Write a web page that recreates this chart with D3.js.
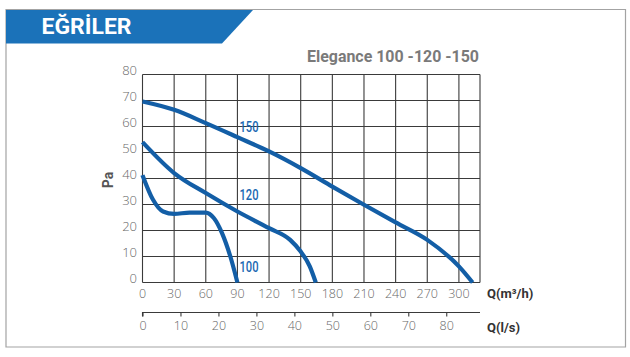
<!DOCTYPE html>
<html><head><meta charset="utf-8">
<script src="https://cdn.jsdelivr.net/npm/d3@7"></script>
<style>body{margin:0;background:#fff}svg{display:block}</style>
</head><body>
<script>
const title = "EĞRİLER";
const chartTitle = "Elegance 100 -120 -150";
const xTicks = [0,30,60,90,120,150,180,210,240,270,300];
const yTicks = [0,10,20,30,40,50,60,70,80];
const lsTicks = [0,10,20,30,40,50,60,70,80];
const curve150 = [[0,69.6],[30,66.4],[60,61.3],[90,55.9],[120,50.4],[150,44],[180,36.9],[210,29.9],[240,23.1],[270,16.4],[300,6.2],[313,0]];
const curve120 = [[0,54],[30,42.1],[60,34.4],[90,27.3],[120,20.9],[140,16.4],[150,11.9],[158.6,6.2],[164.3,0]];
const curve100 = [[0,41.3],[10,31.8],[19.5,27.3],[30,26.4],[44.7,26.9],[60,26.9],[67.6,24.8],[75.4,19],[83.3,10],[90,0]];
const series = [{name:"150", pts:curve150, lx:92, ly:58},{name:"120", pts:curve120, lx:92, ly:31.8},{name:"100", pts:curve100, lx:92, ly:4.1}];

const W=630,H=357;
const svg=d3.select("body").append("svg").attr("width",W).attr("height",H);
const x=d3.scaleLinear().domain([0,320]).range([142.5,480]);
const xl=d3.scaleLinear().domain([0,320/3.6]).range([142.5,480]);
const y=d3.scaleLinear().domain([0,80]).range([282.5,74.5]);

// frame
svg.append("path").attr("d","M6,9.5H625.5V347H6Z").attr("fill","none").attr("stroke","#a3a3a3").attr("stroke-width",1.2);
svg.append("path").attr("d","M6,10H253L222,43.5H6Z").attr("fill","#1b72b9");
svg.append("text").text(title).attr("x",41.5).attr("y",34).attr("fill","#fff")
  .attr("font-family","Roboto, sans-serif").attr("font-weight","bold").attr("font-size",22)
  .attr("textLength",90).attr("lengthAdjust","spacingAndGlyphs");
svg.append("text").text(chartTitle).attr("x",479).attr("y",62).attr("text-anchor","end").attr("fill","#7a7a7a")
  .attr("font-family","Roboto, sans-serif").attr("font-weight","bold").attr("font-size",16)
  .attr("textLength",172).attr("lengthAdjust","spacingAndGlyphs");

// grid
const g=svg.append("g").attr("stroke","#3a3a3a").attr("stroke-width",1.1);
xTicks.concat([320]).forEach(v=>g.append("line").attr("x1",x(v)).attr("x2",x(v)).attr("y1",y(0)).attr("y2",y(80)));
yTicks.forEach(v=>g.append("line").attr("x1",x(0)).attr("x2",x(320)).attr("y1",y(v)).attr("y2",y(v)));

const ff="'Open Sans', sans-serif", fc="#686868", fw=300;
const tg=svg.append("g");
xTicks.forEach(v=>tg.append("text").text(v).attr("x",x(v)).attr("y",298).attr("text-anchor","middle")
  .attr("font-family",ff).attr("font-weight",fw).attr("fill",fc).attr("font-size",12.5));
yTicks.forEach(v=>tg.append("text").text(v).attr("x",137).attr("y",y(v)+0.5).attr("text-anchor","end")
  .attr("font-family",ff).attr("font-weight",fw).attr("fill",fc).attr("font-size",13));

// second axis
const a2=d3.axisBottom(xl).tickValues(lsTicks).tickSize(4).tickPadding(5).tickFormat(d3.format("d"));
const ag=svg.append("g").attr("transform","translate(0,312.5)").call(a2);
ag.select(".domain").attr("d",`M${x(0)},4V0H${x(320)}`).attr("stroke","#3a3a3a").attr("stroke-width",1.1);
ag.selectAll(".tick line").attr("stroke","#3a3a3a").attr("stroke-width",1.1);
ag.selectAll(".tick text").attr("font-family",ff).attr("font-weight",fw).attr("fill",fc).attr("font-size",12.5);

svg.append("text").html("Q(m³/h)").attr("x",487).attr("y",298).attr("fill","#333")
  .attr("font-family","Roboto, sans-serif").attr("font-weight","bold").attr("font-size",13);
svg.append("text").text("Q(l/s)").attr("x",487).attr("y",332).attr("fill","#333")
  .attr("font-family","Roboto, sans-serif").attr("font-weight","bold").attr("font-size",13);
svg.append("text").text("Pa").attr("transform","translate(113,180) rotate(-90)").attr("text-anchor","middle")
  .attr("fill","#555").attr("font-family","Roboto, sans-serif").attr("font-weight","bold").attr("font-size",14);

// curves
const line=d3.line().x(d=>x(d[0])).y(d=>y(d[1])).curve(d3.curveMonotoneX);
series.forEach(s=>{
  svg.append("path").attr("d",line(s.pts)).attr("fill","none").attr("stroke","#135ea6").attr("stroke-width",4.2);
  svg.append("text").text(s.name).attr("x",x(s.lx)).attr("y",y(s.ly)).attr("fill","#1a68b2")
    .attr("font-family","Roboto, sans-serif").attr("font-weight",500).attr("font-size",14.5).attr("textLength",19).attr("lengthAdjust","spacingAndGlyphs");
});
</script>
</body></html>
